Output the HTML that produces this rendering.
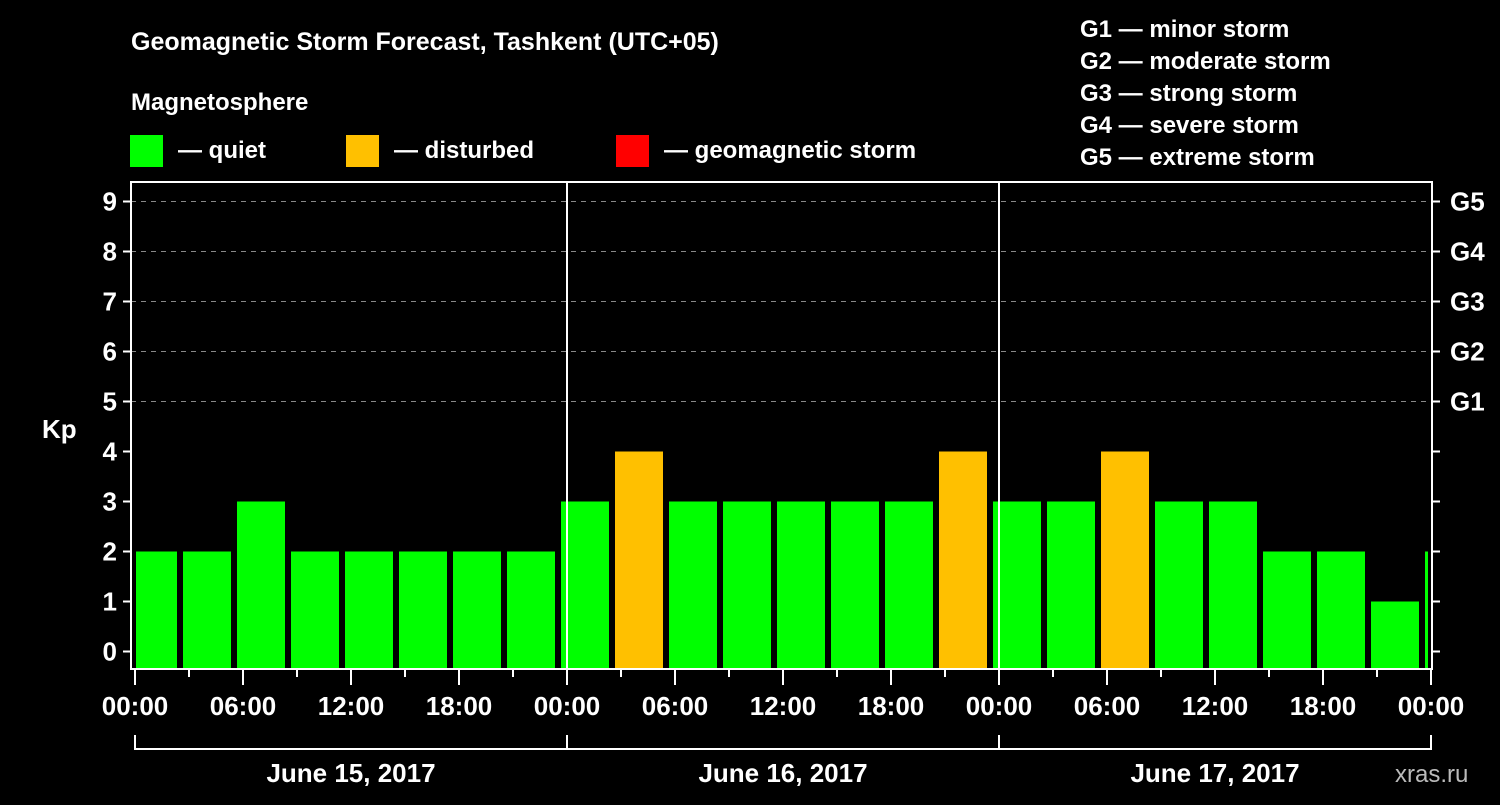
<!DOCTYPE html>
<html><head><meta charset="utf-8"><style>
html,body{margin:0;padding:0;background:#000;}
svg text{font-family:"Liberation Sans",Arial,sans-serif;font-weight:bold;fill:#fff;}
</style></head><body>
<svg id="chart" width="1500" height="800" viewBox="0 0 1500 800" xmlns="http://www.w3.org/2000/svg">
<rect width="1500" height="800" fill="#000"/>
<text x="131" y="50" font-size="25">Geomagnetic Storm Forecast, Tashkent (UTC+05)</text>
<text x="131" y="110" font-size="24">Magnetosphere</text>
<g><rect x="130" y="135" width="33" height="32" fill="#00ff00"/><text x="178" y="158" font-size="24">— quiet</text></g>
<g><rect x="346" y="135" width="33" height="32" fill="#ffc000"/><text x="394" y="158" font-size="24">— disturbed</text></g>
<g><rect x="616" y="135" width="33" height="32" fill="#ff0000"/><text x="664" y="158" font-size="24">— geomagnetic storm</text></g>
<g font-size="24">
<text x="1080" y="37">G1 — minor storm</text>
<text x="1080" y="69">G2 — moderate storm</text>
<text x="1080" y="101">G3 — strong storm</text>
<text x="1080" y="133">G4 — severe storm</text>
<text x="1080" y="165">G5 — extreme storm</text>
</g>
<text x="42" y="438" font-size="26">Kp</text>
<text x="1395" y="782" font-size="24" style="fill:#bbb;font-weight:normal">xras.ru</text>
<defs><clipPath id="pc"><rect x="136" y="182" width="1292" height="487"/></clipPath></defs>
<g id="grid"></g>
<g id="bars" clip-path="url(#pc)"></g>
<g id="axes"></g>
</svg>
<script>
const hours = [0.5,3.5,6.5,9.5,12.5,15.5,18.5,21.5,24.5,27.5,30.5,33.5,36.5,39.5,42.5,45.5,48.5,51.5,54.5,57.5,60.5,63.5,66.5,69.5,72.5];
const kpValues = [2,2,3,2,2,2,2,2,3,4,3,3,3,3,3,4,3,3,4,3,3,2,2,1,2];
const yTicks = [0,1,2,3,4,5,6,7,8,9];
const gLabels = ["G1","G2","G3","G4","G5"];
const gLevels = [5,6,7,8,9];
const hourLabels = ["00:00","06:00","12:00","18:00","00:00","06:00","12:00","18:00","00:00","06:00","12:00","18:00","00:00"];
const dayLabels = ["June 15, 2017","June 16, 2017","June 17, 2017"];

const NS="http://www.w3.org/2000/svg";
const X0=135, PXH=18, Y0=651.5, PXK=50, FB=669, FT=182, FL=131, FR=1432;
const x = h => X0 + h*PXH;
const y = k => Y0 - k*PXK;
function mk(tag, attrs, parent){const e=document.createElementNS(NS,tag);for(const k in attrs)e.setAttribute(k,attrs[k]);parent.appendChild(e);return e;}
const grid=document.getElementById('grid'), bars=document.getElementById('bars'), axes=document.getElementById('axes');

yTicks.forEach(k=>{
  if(k>=5){const l=mk('line',{x1:FL,x2:FR,y1:y(k),y2:y(k),stroke:'#888','stroke-width':1,'stroke-dasharray':'5,5'},grid);
  
  }
  const t=mk('line',{x1:FL-8,x2:FL,y1:y(k),y2:y(k),stroke:'#fff','stroke-width':2},axes);
  
  
  const t2=mk('line',{x1:FR,x2:FR+8,y1:y(k),y2:y(k),stroke:'#fff','stroke-width':2},axes);
  
  
  const lb=mk('text',{x:FL-14,y:y(k)+9,'font-size':26,'text-anchor':'end'},axes);
  lb.textContent=k;
  
  
});
gLevels.forEach((k,i)=>{
  const lb=mk('text',{x:1450,y:y(k)+9,'font-size':26},axes);
  lb.textContent=gLabels[i];
  
  
});
hours.forEach((h,i)=>{
  const v=kpValues[i];
  const col=v>=5?'#ff0000':(v>=4?'#ffc000':'#00ff00');
  const r=mk('rect',{x:x(h)-1.5*PXH+3+ -0.5*PXH+ 0.5*PXH,y:y(v),width:3*PXH-6,height:FB-y(v),fill:col},bars);
  r.setAttribute('x', x(h) - (3*PXH-6)/2 + 0.5*PXH);
  
  
});
[24,48].forEach((h,i)=>{
  const l=mk('line',{x1:x(h),x2:x(h),y1:FT,y2:FB,stroke:'#fff','stroke-width':2},axes);
  
  
});
const fr=mk('rect',{x:FL,y:FT,width:FR-FL,height:FB-FT,fill:'none',stroke:'#fff','stroke-width':2},axes);


for(let h=0;h<=72;h+=3){
  const major=h%6===0;
  const t=mk('line',{x1:x(h),x2:x(h),y1:FB,y2:major?685:677,stroke:'#fff','stroke-width':2},axes);
  
  
}
hourLabels.forEach((s,i)=>{
  const t=mk('text',{x:x(i*6),y:715,'font-size':26,'text-anchor':'middle'},axes);
  t.textContent=s;
  
  
});
mk('path',{d:`M${x(0)},735 V749 H${x(72)} V735`,stroke:'#fff','stroke-width':2,fill:'none'},axes);
[24,48].forEach((h,i)=>{
  const l=mk('line',{x1:x(h),x2:x(h),y1:735,y2:749,stroke:'#fff','stroke-width':2},axes);
  
  
});
dayLabels.forEach((s,i)=>{
  const t=mk('text',{x:x(i*24+12),y:782,'font-size':26,'text-anchor':'middle'},axes);
  t.textContent=s;
  
  
});
</script>
</body></html>
